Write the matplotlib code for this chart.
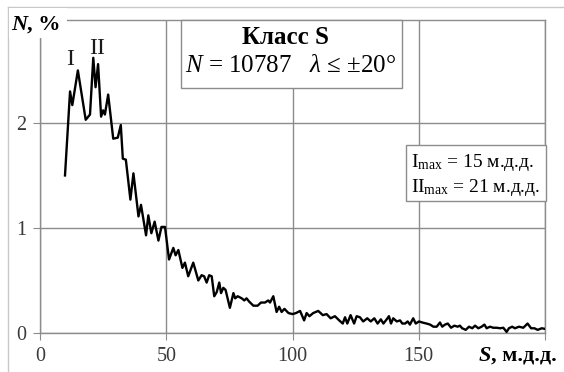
import matplotlib
matplotlib.use("Agg")
import matplotlib.pyplot as plt
from matplotlib.patches import Rectangle

plt.rcParams['font.family'] = ['Liberation Serif', 'DejaVu Serif']
plt.rcParams['mathtext.fontset'] = 'custom'
plt.rcParams['mathtext.rm'] = 'Liberation Serif'
plt.rcParams['mathtext.it'] = 'Liberation Serif:italic'
plt.rcParams['mathtext.bf'] = 'Liberation Serif:bold'

# values
S = [9.9, 11.9, 12.8, 15.0, 18.1, 19.8, 21.1, 22.0, 23.0, 24.2, 25.0, 25.7, 27.0, 29.0, 30.8,
     32.0, 32.8, 34.0, 35.8, 37.0, 39.0, 40.0, 42.0, 42.9, 44.1, 45.4, 46.9, 48.1, 49.5,
     51.1, 52.8, 53.7, 54.8, 56.4, 57.4, 58.7, 60.7, 62.7, 64.0, 65.0, 66.0, 67.0, 68.0,
     69.0, 70.0, 71.0, 71.7, 72.6, 73.5, 75.2, 76.6, 77.3, 78.3, 79.9, 80.9, 81.8, 82.8,
     84.5, 86.2, 87.5, 89.1, 90.4, 91.1, 92.4, 93.7, 94.7, 95.7, 96.8, 97.6, 98.4, 100.0,
     101.4, 103.0, 104.6, 105.6, 106.7, 108.2, 110.2, 112.0, 113.5, 115.1, 116.8, 118.5,
     119.9, 120.8, 121.7, 123.0, 124.4, 125.4, 126.7, 128.0, 129.6, 131.0, 132.4, 133.7,
     135.0, 136.0, 137.3, 138.2, 139.0, 139.9, 141.3, 142.6, 143.5, 144.6, 145.6, 146.5,
     147.8, 148.8, 150.1, 151.4, 153.1, 154.5, 155.8, 157.1, 158.4, 159.3, 160.4, 161.5,
     162.8, 164.1, 165.4, 166.3, 167.2, 168.6, 169.9, 171.2, 172.3, 173.6, 174.9, 176.0,
     176.9, 178.2, 179.5, 180.9, 182.2, 183.5, 184.8, 185.7, 187.0, 188.1, 189.7, 191.4,
     193.1, 194.5, 195.8, 197.1, 198.7, 199.8]
N = [1.50, 2.30, 2.17, 2.50, 2.03, 2.08, 2.62, 2.34, 2.56, 2.06, 2.12, 2.08, 2.27, 1.85, 1.86,
     1.98, 1.66, 1.65, 1.27, 1.52, 1.11, 1.22, 0.93, 1.12, 0.95, 1.06, 0.88, 1.01, 1.01,
     0.70, 0.81, 0.74, 0.79, 0.62, 0.67, 0.54, 0.67, 0.50, 0.55, 0.54, 0.48, 0.55, 0.54,
     0.35, 0.39, 0.48, 0.38, 0.43, 0.41, 0.24, 0.38, 0.33, 0.35, 0.33, 0.31, 0.33, 0.30,
     0.26, 0.26, 0.29, 0.29, 0.31, 0.29, 0.35, 0.20, 0.25, 0.20, 0.23, 0.21, 0.19, 0.18,
     0.19, 0.21, 0.12, 0.19, 0.16, 0.19, 0.21, 0.17, 0.18, 0.14, 0.16, 0.12,
     0.09, 0.15, 0.09, 0.17, 0.09, 0.16, 0.15, 0.11, 0.14, 0.11, 0.14, 0.09,
     0.13, 0.09, 0.13, 0.16, 0.09, 0.14, 0.11, 0.12, 0.09, 0.09, 0.11, 0.08,
     0.14, 0.09, 0.11, 0.10, 0.09, 0.08, 0.06, 0.06, 0.10, 0.06, 0.08, 0.09,
     0.05, 0.07, 0.06, 0.07, 0.045, 0.03, 0.06, 0.045, 0.07, 0.045, 0.06, 0.08,
     0.045, 0.06, 0.05, 0.05, 0.045, 0.05, 0.01, 0.045, 0.06, 0.045, 0.06, 0.05,
     0.09, 0.045, 0.045, 0.03, 0.045, 0.04]

xticks = [0, 50, 100, 150, 200]
xticklabels = ['0', '50', '100', '150', '']
yticks = [0, 1, 2]

gray = '#8c8c8c'

fig = plt.figure(figsize=(5.64, 3.72), dpi=100)
ax = fig.add_axes([40/564, 1 - 333/372, 505/564, 313/372])

ax.plot(S, N, color='black', lw=1.7, zorder=3)
ax.set_xlim(0, 200)
ax.set_ylim(0, 2.98)
ax.set_xticks(xticks)
ax.set_xticklabels(xticklabels)
ax.set_yticks(yticks)
ax.grid(True, color=gray, lw=1)
for sp in ax.spines.values():
    sp.set_color(gray)
    sp.set_linewidth(1)
ax.tick_params(direction='out', length=5, color=gray, labelsize=14.5, labelcolor='#3a3a3a', pad=5)

# outer frame (top and left only visible)
fig.add_artist(plt.Line2D([8/564, 1], [1 - 7/372, 1 - 7/372], transform=fig.transFigure, color='#c8c8c8', lw=1))
fig.add_artist(plt.Line2D([8/564, 8/564], [0, 1 - 7/372], transform=fig.transFigure, color='#c8c8c8', lw=1))

# axis labels with white background
fig.patches.append(Rectangle((9/564, 1 - 38/372), 58/564, 30/372, transform=fig.transFigure,
                             facecolor='white', edgecolor='none', zorder=5))
fig.text(27/564, 1 - 30/372, 'N', fontsize=16, fontweight='bold', fontstyle='italic', ha='right', va='baseline', zorder=6)
fig.text(27/564, 1 - 30/372, ', %', fontsize=16, fontweight='bold', ha='left', va='baseline', zorder=6)
fig.text(491/564, 1 - 361/372, 'S', fontsize=16, fontweight='bold', fontstyle='italic', ha='right', va='baseline', zorder=6,
         bbox=dict(facecolor='white', edgecolor='none', pad=1))
fig.text(491/564, 1 - 361/372, ', м.д.д.', fontsize=16, fontweight='bold', ha='left', va='baseline', zorder=6)

# peak labels
ax.text(12, 2.6, 'I', fontsize=17, ha='center', va='center', color='#1a1a1a', zorder=4)
ax.text(22.6, 2.71, 'II', fontsize=17, ha='center', va='center', color='#1a1a1a', zorder=4)

# title box
fig.patches.append(Rectangle((181/564, 1 - 88/372), 221/564, 68/372, transform=fig.transFigure,
                             facecolor='white', edgecolor=gray, lw=1, zorder=5))
fig.text(286/564, 1 - 38/372, 'Класс S', fontsize=18, fontweight='bold', ha='center', va='center', zorder=6)
fig.text(291/564, 1 - 66/372, r'$N$ = 10787   $\lambda$ ≤ ±20°', fontsize=18, ha='center', va='center', zorder=6)

# maxima box
fig.patches.append(Rectangle((406/564, 1 - 201/372), 140/564, 56/372, transform=fig.transFigure,
                             facecolor='white', edgecolor=gray, lw=1, zorder=5))
fig.text(411/564, 1 - 162/372, r'I$_{\mathrm{max}}$ = 15 м.д.д.', fontsize=14, ha='left', va='center', zorder=6)
fig.text(411/564, 1 - 187/372, r'II$_{\mathrm{max}}$ = 21 м.д.д.', fontsize=14, ha='left', va='center', zorder=6)

fig.savefig('out.png', dpi=100, facecolor='white')
plt.close(fig)
